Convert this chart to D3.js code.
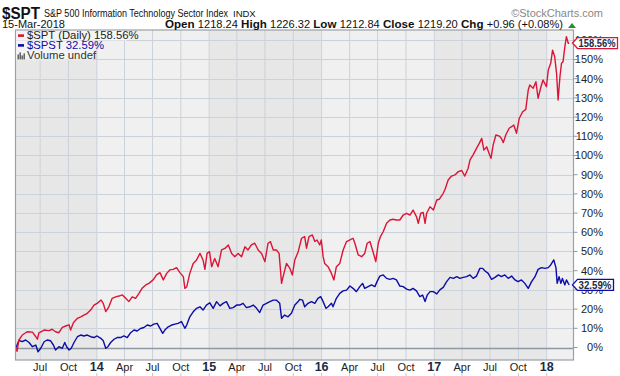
<!DOCTYPE html>
<html>
<head>
<meta charset="utf-8">
<script src="https://cdn.jsdelivr.net/npm/d3@7"></script>
<style>
  html, body { margin: 0; padding: 0; background: #fff; }
  svg { display: block; font-family: Arial, "Liberation Sans", sans-serif; }
</style>
</head>
<body>
<div id="chart"></div>
<script>
// Performance in % since start
const spt = [
  ["2013-04-14",0],["2013-04-17",-2],["2013-04-23",3.9],["2013-05-04",6.5],["2013-05-20",8.2],["2013-06-06",8.0],
  ["2013-06-17",5.6],["2013-06-22",4.3],["2013-06-27",7.6],["2013-07-14",9.1],["2013-07-30",8.8],["2013-08-09",9.5],
  ["2013-08-20",8.2],["2013-08-31",7.7],["2013-09-11",10.5],["2013-09-22",11.2],["2013-10-03",11.8],["2013-10-08",9.1],
  ["2013-10-17",12.9],["2013-10-30",15.2],["2013-11-10",16],["2013-11-20",16.9],["2013-12-01",17.8],["2013-12-12",19.5],
  ["2013-12-23",22.1],
  ["2014-01-02",23],["2014-01-15",24.7],["2014-01-22",23],["2014-01-30",18.7],["2014-02-09",21.2],["2014-02-20",25.6],
  ["2014-03-03",26.4],["2014-03-14",26.8],["2014-03-25",27.4],["2014-04-05",25.6],["2014-04-15",23.9],["2014-04-26",26.4],
  ["2014-05-07",25.6],["2014-05-18",28.2],["2014-05-28",30.8],["2014-06-09",32.6],["2014-06-19",33.4],["2014-07-03",35.2],
  ["2014-07-14",37.8],["2014-07-25",39],["2014-08-05",35.2],["2014-08-16",38.6],["2014-08-26",40.4],["2014-09-06",40.7],
  ["2014-09-17",41.6],["2014-09-28",39],["2014-10-09",36.9],["2014-10-14",30.8],["2014-10-20",31.6],["2014-10-30",38.6],
  ["2014-11-10",43.8],["2014-11-21",45.6],["2014-12-02",49],["2014-12-12",45.6],["2014-12-18",40.7],["2014-12-25",49],
  ["2015-01-02",49.9],["2015-01-09",42.1],["2015-01-19",46.4],["2015-01-30",42.1],["2015-02-10",50.8],["2015-02-21",51.6],
  ["2015-03-04",53.4],["2015-03-15",49],["2015-03-25",47.3],["2015-04-05",49],["2015-04-16",47.3],["2015-04-27",52.5],
  ["2015-05-07",50.8],["2015-05-18",53.4],["2015-05-29",54.3],["2015-06-09",50.8],["2015-06-20",49],["2015-07-01",44.7],
  ["2015-07-11",54.3],["2015-07-19",55.1],["2015-07-28",50.8],["2015-08-07",50.8],["2015-08-16",49],["2015-08-24",33.4],
  ["2015-08-29",36.9],["2015-09-09",43.8],["2015-09-20",41.2],["2015-09-28",37.8],["2015-10-06",45.6],["2015-10-17",49.9],
  ["2015-10-28",56.9],["2015-11-07",57.8],["2015-11-13",51.7],["2015-11-21",57.8],["2015-12-02",58.6],["2015-12-10",55.2],
  ["2015-12-17",56],["2015-12-26",53.4],["2015-12-31",56],
  ["2016-01-06",47.3],["2016-01-11",43.8],["2016-01-22",42.1],["2016-02-02",38.6],["2016-02-10",35.2],["2016-02-18",42.1],
  ["2016-02-29",43.8],["2016-03-11",50.8],["2016-03-22",55.2],["2016-04-02",56],["2016-04-12",56.9],["2016-04-18",54.3],
  ["2016-04-29",48.2],["2016-05-10",47.3],["2016-05-20",49],["2016-05-28",54.3],["2016-06-06",55.2],["2016-06-16",49.9],
  ["2016-06-25",44.7],["2016-07-03",54.3],["2016-07-10",57.7],["2016-07-19",60.3],["2016-07-30",64.7],["2016-08-10",66.4],
  ["2016-08-20",66.8],["2016-08-31",66.4],["2016-09-11",66.4],["2016-09-22",69],["2016-10-03",69.9],["2016-10-14",69],
  ["2016-10-24",71.6],["2016-11-04",68.2],["2016-11-10",64.7],["2016-11-18",69.9],["2016-11-26",70.3],["2016-12-02",64.7],
  ["2016-12-07",69.9],["2016-12-18",73.3],["2016-12-29",71.6],
  ["2017-01-09",76.8],["2017-01-17",77.2],["2017-01-30",80.3],["2017-02-05",82.4],["2017-02-15",87.2],["2017-02-26",89.3],
  ["2017-03-09",89.9],["2017-03-20",91.6],["2017-03-31",92.2],["2017-04-10",89.3],["2017-04-21",93.4],["2017-04-27",97.7],
  ["2017-05-07",100.3],["2017-05-18",103.7],["2017-05-27",106.3],["2017-06-04",108.9],["2017-06-11",102.8],["2017-06-20",104.5],
  ["2017-06-28",101.1],["2017-07-04",98.5],["2017-07-11",105.4],["2017-07-20",110.7],["2017-07-31",110.1],["2017-08-07",108.9],
  ["2017-08-13",106.7],["2017-08-21",110.7],["2017-09-01",114.2],["2017-09-09",115],["2017-09-16",115.9],["2017-09-25",111.6],
  ["2017-10-04",119.4],["2017-10-15",122.8],["2017-10-25",124],["2017-11-02",134.1],["2017-11-07",136.7],["2017-11-18",135],
  ["2017-11-27",138.4],["2017-12-04",129.8],["2017-12-12",135],["2017-12-20",139.3],["2017-12-31",135.8],
  ["2018-01-06",144.5],["2018-01-14",148],["2018-01-20",154.9],["2018-01-27",151.4],["2018-02-02",142.8],["2018-02-07",128.9],
  ["2018-02-13",141],["2018-02-18",148],["2018-02-23",148.8],["2018-03-01",156.7],["2018-03-06",161.9],["2018-03-12",158.4],
  ["2018-03-15",158.56]
];

const spst = [
  ["2013-04-14",0],["2013-04-17",1.3],["2013-04-23",3.6],["2013-05-04",3.1],["2013-05-15",3.9],["2013-05-26",2.6],
  ["2013-06-06",0.4],["2013-06-17",1.3],["2013-06-24",-2.2],["2013-07-03",-0.4],["2013-07-14",3],["2013-07-24",3.9],
  ["2013-08-04",3.5],["2013-08-13",1.3],["2013-08-20",-1.3],["2013-08-31",0.4],["2013-09-11",-0.4],["2013-09-19",2.6],
  ["2013-09-25",0.4],["2013-10-03",-1.3],["2013-10-10",-0.4],["2013-10-19",2.6],["2013-10-30",5.6],["2013-11-10",6.5],
  ["2013-11-20",6],["2013-12-01",6.5],["2013-12-12",5.6],["2013-12-23",5.2],
  ["2014-01-02",6],["2014-01-14",4.8],["2014-01-22",3.5],["2014-01-30",-0.4],["2014-02-06",0.4],["2014-02-15",2.6],
  ["2014-02-26",4.3],["2014-03-08",5.2],["2014-03-19",5.2],["2014-03-30",6],["2014-04-10",5.2],["2014-04-21",7.7],
  ["2014-05-02",9.1],["2014-05-12",8.6],["2014-05-23",9.9],["2014-06-03",10.4],["2014-06-14",11.7],["2014-06-25",11.2],
  ["2014-07-05",12.2],["2014-07-16",12.6],["2014-07-25",10],["2014-08-03",7.4],["2014-08-10",9.1],["2014-08-21",10.8],
  ["2014-09-01",11.7],["2014-09-12",12.2],["2014-09-22",12.6],["2014-10-03",13.5],["2014-10-14",10],["2014-10-20",11.7],
  ["2014-10-30",16],["2014-11-10",18.6],["2014-11-21",20.4],["2014-12-02",21.2],["2014-12-12",19.5],["2014-12-23",22.1],
  ["2015-01-03",23.3],["2015-01-14",20.4],["2015-01-25",23.9],["2015-02-05",21.7],["2015-02-15",23],["2015-02-26",23.9],
  ["2015-03-09",20.4],["2015-03-20",20.8],["2015-03-31",22.1],["2015-04-10",22.1],["2015-04-21",23],["2015-05-02",20.8],
  ["2015-05-13",21.2],["2015-05-24",22.1],["2015-06-04",20.4],["2015-06-14",18.2],["2015-06-25",22.1],["2015-07-06",23],
  ["2015-07-17",23.9],["2015-07-28",24.7],["2015-08-07",24.7],["2015-08-18",23],["2015-08-24",15.2],["2015-09-03",16.9],
  ["2015-09-14",16],["2015-09-25",17.8],["2015-10-06",22.1],["2015-10-17",23.9],["2015-10-22",25.1],["2015-10-31",24.7],
  ["2015-11-07",21.2],["2015-11-18",23],["2015-11-29",23.9],["2015-12-10",23],["2015-12-20",25.6],["2015-12-29",26.5],
  ["2016-01-06",23.9],["2016-01-15",20.4],["2016-01-22",21.2],["2016-02-02",23],["2016-02-07",21.2],["2016-02-18",25.6],
  ["2016-02-29",28.2],["2016-03-11",29.5],["2016-03-22",29.9],["2016-04-02",32],["2016-04-12",30.8],["2016-04-23",29.1],
  ["2016-05-04",31.7],["2016-05-13",33.4],["2016-05-20",30.8],["2016-05-31",31.7],["2016-06-11",32.6],["2016-06-22",31.7],
  ["2016-06-29",34.3],["2016-07-08",37.2],["2016-07-19",37.8],["2016-07-30",36],["2016-08-10",35.5],["2016-08-20",36],
  ["2016-08-31",35.2],["2016-09-11",32],["2016-09-22",31.7],["2016-10-03",30.4],["2016-10-14",29.9],["2016-10-24",30.8],
  ["2016-11-04",29.5],["2016-11-15",26.5],["2016-11-24",27.3],["2016-12-02",23.9],["2016-12-09",27.3],["2016-12-18",29.1],
  ["2016-12-29",29.1],
  ["2017-01-09",27.9],["2017-01-19",30],["2017-01-30",31.3],["2017-02-10",34.3],["2017-02-21",36.5],["2017-03-04",36],
  ["2017-03-15",36.9],["2017-03-25",36],["2017-04-05",36.5],["2017-04-16",36.9],["2017-04-27",37.8],["2017-05-07",36],
  ["2017-05-18",37.2],["2017-05-29",41.2],["2017-06-07",41.2],["2017-06-14",40],["2017-06-25",38.6],["2017-07-06",35.5],
  ["2017-07-17",36.5],["2017-07-28",37.8],["2017-08-07",36.9],["2017-08-18",37.8],["2017-08-29",36],["2017-09-09",37.2],
  ["2017-09-20",35.2],["2017-09-30",34.3],["2017-10-11",35.2],["2017-10-22",33.4],["2017-11-02",30.8],["2017-11-13",34.3],
  ["2017-11-24",36.9],["2017-12-04",40.7],["2017-12-15",41.6],["2017-12-26",41.2],
  ["2018-01-06",41.6],["2018-01-14",43],["2018-01-24",45.6],["2018-01-31",41.6],["2018-02-04",33.4],["2018-02-10",36.9],
  ["2018-02-16",33.4],["2018-02-21",36],["2018-03-01",32.6],["2018-03-06",35.2],["2018-03-12",33.4],["2018-03-15",32.59]
];

const yTicks = d3.range(0, 170, 10);   // 0% .. 160%
const years = [2013, 2014, 2015, 2016, 2017, 2018];

const width = 620, height = 376;
const plot = { left: 15.5, right: 573.5, top: 30, bottom: 360 };
const red = "#dc1436", blue = "#0c0ca8";

const parse = d3.timeParse("%Y-%m-%d");
const sptData = spt.map(d => ({ date: parse(d[0]), v: d[1] }));
const spstData = spst.map(d => ({ date: parse(d[0]), v: d[1] }));

const x = d3.scaleTime()
  .domain([parse("2013-04-12"), parse("2018-03-29")])
  .range([plot.left, plot.right]);
const y = d3.scaleLinear()
  .domain([-6.51, 165.36])
  .range([plot.bottom, plot.top]);

const svg = d3.select("#chart").append("svg")
  .attr("width", width).attr("height", height);

// year bands
const [d0, d1] = x.domain();
svg.append("g").selectAll("rect").data(years).join("rect")
  .attr("x", yr => x(d3.max([new Date(yr, 0, 1), d0])))
  .attr("width", yr => x(d3.min([new Date(yr + 1, 0, 1), d1])) - x(d3.max([new Date(yr, 0, 1), d0])))
  .attr("y", plot.top).attr("height", plot.bottom - plot.top)
  .attr("fill", (yr, i) => i % 2 === 0 ? "#e7e7e7" : "#f0f0f0");

// grid
const qTicks = x.ticks(d3.timeMonth.every(3));
svg.append("g").selectAll("line").data(qTicks).join("line")
  .attr("x1", d => x(d)).attr("x2", d => x(d))
  .attr("y1", plot.top).attr("y2", plot.bottom)
  .attr("stroke", "#cbd2da").attr("stroke-width", 1);
svg.append("g").selectAll("line").data(yTicks).join("line")
  .attr("x1", plot.left).attr("x2", plot.right)
  .attr("y1", d => Math.round(y(d)) + 0.5).attr("y2", d => Math.round(y(d)) + 0.5)
  .attr("stroke", d => d === 0 ? "#8e98a2" : "#cbd2da")
  .attr("stroke-width", d => d === 0 ? 1.6 : 1);

// lines
const line = d3.line().x(d => x(d.date)).y(d => y(d.v));
svg.append("path").datum(spstData).attr("d", line)
  .attr("fill", "none").attr("stroke", blue).attr("stroke-width", 1.4).attr("stroke-linejoin", "round");
svg.append("path").datum(sptData).attr("d", line)
  .attr("fill", "none").attr("stroke", red).attr("stroke-width", 1.4).attr("stroke-linejoin", "round");

// frame
svg.append("rect")
  .attr("x", plot.left).attr("y", plot.top)
  .attr("width", plot.right - plot.left).attr("height", plot.bottom - plot.top)
  .attr("fill", "none").attr("stroke", "#9aa1a8").attr("stroke-width", 1.2);

// right axis
const yAxis = svg.append("g");
yAxis.selectAll("line").data(yTicks).join("line")
  .attr("x1", plot.right).attr("x2", plot.right + 4)
  .attr("y1", d => y(d)).attr("y2", d => y(d))
  .attr("stroke", "#8e98a2");
yAxis.selectAll("text").data(yTicks).join("text")
  .attr("x", 603).attr("y", d => y(d)).attr("dy", "0.36em")
  .attr("text-anchor", "end").attr("font-size", 11).attr("fill", "#222")
  .text(d => d + "%");

// bottom axis
const xAxis = svg.append("g");
xAxis.selectAll("text").data(qTicks).join("text")
  .attr("x", d => x(d)).attr("y", 371)
  .attr("text-anchor", "middle")
  .attr("font-size", d => d.getMonth() === 0 ? 12.5 : 11)
  .attr("font-weight", d => d.getMonth() === 0 ? "bold" : "normal")
  .attr("fill", d => d.getMonth() === 0 ? "#1b2a44" : "#222")
  .text(d => d.getMonth() === 0 ? d3.timeFormat("%y")(d) : d3.timeFormat("%b")(d));
xAxis.selectAll("line").data(qTicks).join("line")
  .attr("x1", d => x(d)).attr("x2", d => x(d))
  .attr("y1", 373).attr("y2", 376)
  .attr("stroke", "#c4c8cc");

// legend
const legend = [
  { text: "$SPT (Daily) 158.56%", color: red, textColor: "#222", w: 111 },
  { text: "$SPST 32.59%", color: blue, textColor: blue, w: 79 },
  { text: "Volume undef", color: null, textColor: "#333", w: 77 }
];
const lg = svg.append("g").selectAll("g").data(legend).join("g")
  .attr("transform", (d, i) => `translate(16,${30.8 + i * 9.8})`);
lg.append("rect").attr("width", d => d.w).attr("height", 9.8)
  .attr("fill", "#fff").attr("fill-opacity", 0.55);
lg.filter(d => d.color).append("rect")
  .attr("x", 2).attr("y", 3.5).attr("width", 6).attr("height", 2.6).attr("fill", d => d.color);
lg.filter(d => !d.color).selectAll("rect.bar").data([5, 7, 4, 6]).join("rect")
  .attr("x", (h, i) => 1.5 + i * 2).attr("y", h => 9 - h).attr("width", 1.4).attr("height", h => h)
  .attr("fill", "#555");
lg.append("text").attr("x", 11).attr("y", 8.5)
  .attr("font-size", 11.3).attr("fill", d => d.textColor).text(d => d.text);

// value tags
const tags = [
  { v: sptData[sptData.length - 1].v, color: red, w: 45 },
  { v: spstData[spstData.length - 1].v, color: blue, w: 41 }
];
const tg = svg.append("g").selectAll("g").data(tags).join("g")
  .attr("transform", d => `translate(${plot.right - 1},${y(d.v)})`);
tg.append("path")
  .attr("d", d => `M0,0 L5,-5.5 L${d.w},-5.5 L${d.w},5.5 L5,5.5 Z`)
  .attr("fill", "#fff").attr("stroke", d => d.color).attr("stroke-width", 1.3);
tg.append("text").attr("x", 6).attr("y", 4.2)
  .attr("font-size", 11.5).attr("font-weight", "bold").attr("fill", "#1b2a44")
  .attr("textLength", d => d.w - 8).attr("lengthAdjust", "spacingAndGlyphs")
  .text(d => d.v.toFixed(2) + "%");

// header
const head = svg.append("g").attr("fill", "#111");
head.append("text").attr("x", 2).attr("y", 18.5).attr("font-size", 16).attr("font-weight", "bold")
  .attr("textLength", 38).attr("lengthAdjust", "spacingAndGlyphs").text("$SPT");
head.append("text").attr("x", 44).attr("y", 16.5).attr("font-size", 11)
  .attr("textLength", 184).attr("lengthAdjust", "spacingAndGlyphs")
  .text("S&P 500 Information Technology Sector Index");
head.append("text").attr("x", 233).attr("y", 16.5).attr("font-size", 9.5).text("INDX");
head.append("text").attr("x", 603).attr("y", 16.5).attr("text-anchor", "end")
  .attr("font-size", 11).attr("fill", "#888").text("©StockCharts.com");
head.append("text").attr("x", 2).attr("y", 28).attr("font-size", 11).text("15-Mar-2018");

const quote = [
  ["Open", "1218.24"], ["High", "1226.32"], ["Low", "1212.84"], ["Close", "1219.20"], ["Chg", "+0.96 (+0.08%)"]
];
const qt = head.append("text").attr("x", 165).attr("y", 28).attr("font-size", 10.5)
  .attr("textLength", 398).attr("lengthAdjust", "spacingAndGlyphs");
quote.forEach((q, i) => {
  qt.append("tspan").attr("font-weight", "bold").attr("font-size", 11).text((i ? " " : "") + q[0] + " ");
  qt.append("tspan").text(q[1]);
});
head.append("path").attr("d", "M568,28 L572,23 L576,28 Z").attr("fill", "#2e8b3a");
</script>
</body>
</html>
